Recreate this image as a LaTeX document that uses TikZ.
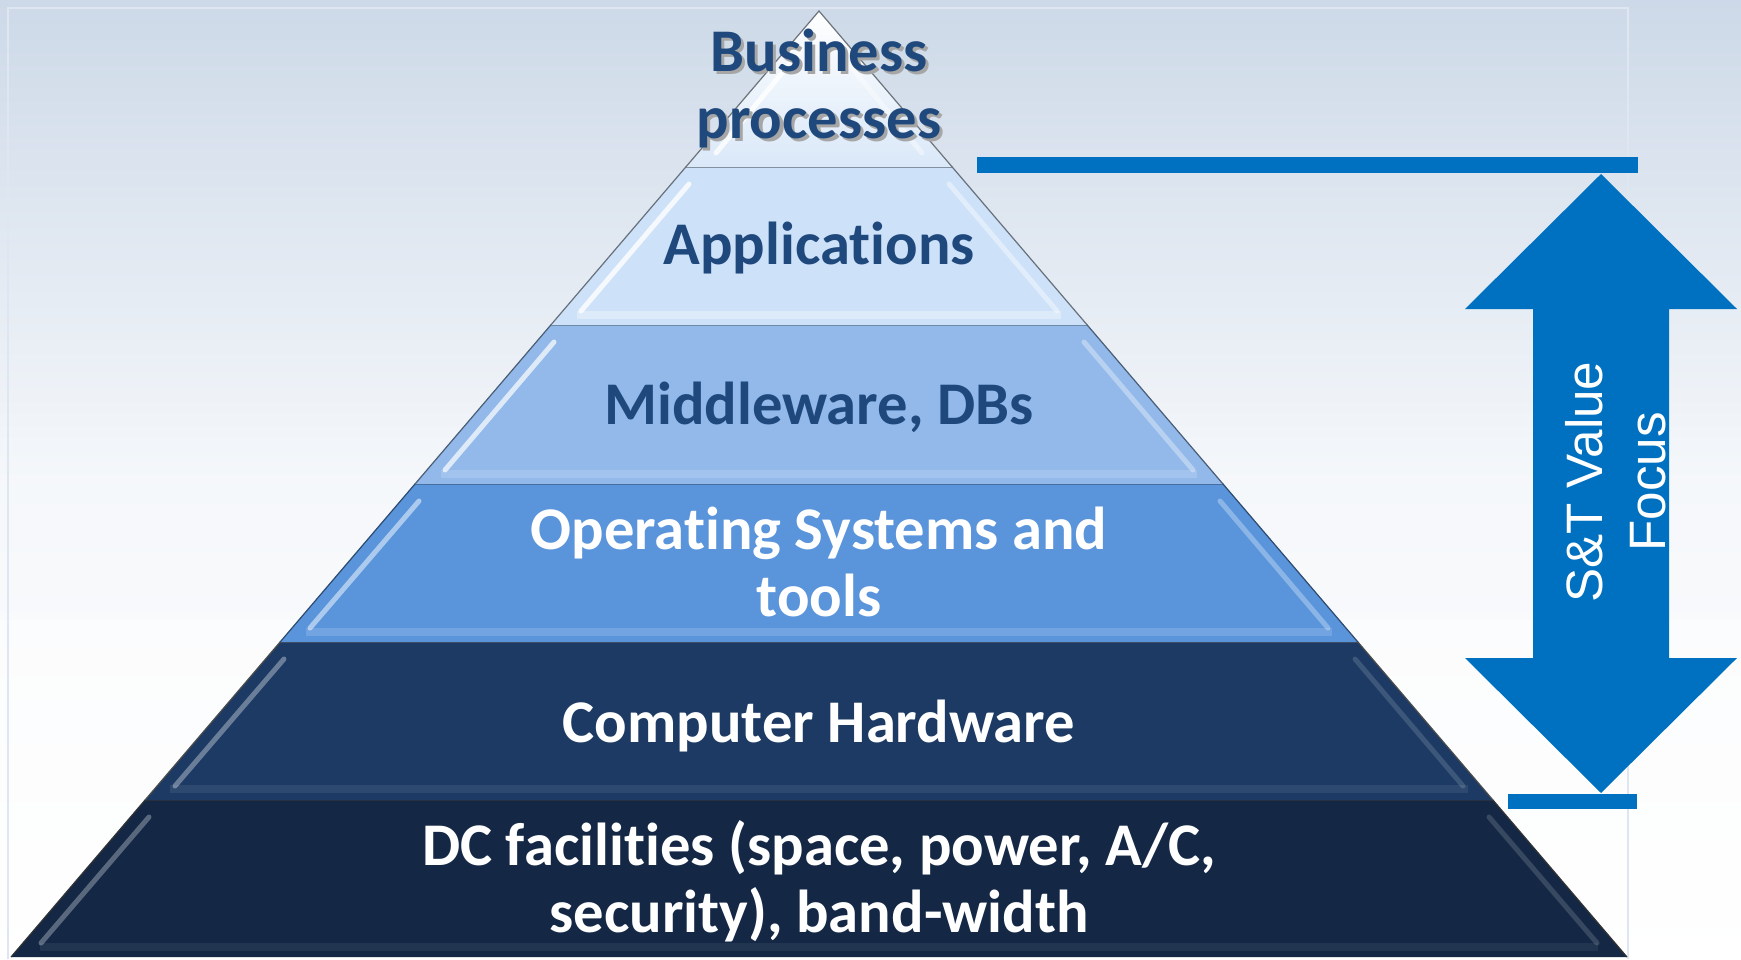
\documentclass[tikz,border=0pt]{standalone}
\usepackage{fontspec}
\newfontfamily\calibri{Carlito}[Ligatures=NoCommon]
\newfontfamily\arial{Liberation Sans}
\definecolor{textblue}{HTML}{1F497D}
\definecolor{arrowblue}{HTML}{0070C0}
\definecolor{skyblue}{HTML}{CDD9E8}
\definecolor{framegrey}{HTML}{DDE6F1}
\definecolor{layerA}{HTML}{DAE8F8}
\definecolor{layerB}{HTML}{CDE1F8}
\definecolor{layerC}{HTML}{92B9EA}
\definecolor{layerD}{HTML}{5A95DC}
\definecolor{layerE}{HTML}{1C3A63}
\definecolor{layerF}{HTML}{142846}
\newcommand\shadowtext[1]{\rlap{\hspace{1.6pt}\raisebox{-1.6pt}{\color{black!35}#1}}#1}
\tikzset{every picture/.style={line width=0.75pt}}
\tikzset{
  edge/.style={draw=#1, line width=0.6pt},
  bevel/.style={white, opacity=0.5, line width=2.5pt, line cap=round},
  shine/.style={white, opacity=0.15, line width=4pt},
  darktext/.style={font=\calibri\bfseries\fontsize{30.3}{33.5}\selectfont, text=textblue, align=center},
  lighttext/.style={font=\calibri\bfseries\fontsize{30.3}{33.5}\selectfont, text=white, align=center}
}
\begin{document}
\begin{tikzpicture}[x=0.5pt,y=0.5pt,yscale=-1,xscale=1]
\useasboundingbox (0,0) rectangle (1741,959);

%Background sky
\fill[top color=skyblue, bottom color=white, middle color=skyblue!20!white] (0,0) rectangle (1741,959);
\fill[white, opacity=0.5] (0,620) rectangle (1741,959);
\draw[framegrey, line width=1pt] (8,959) -- (8,8) -- (1628,8) -- (1628,959);

%Shape: Layer F (bottom)
\fill[layerF] (145.1,800) -- (1492.9,800) -- (1627,957) -- (11,957) -- cycle;
\draw[edge=black!80] (11,957) -- (145.1,800) -- (1492.9,800) -- (1627,957);
\draw[bevel, opacity=0.3] (149,817) -- (41,943);
\draw[bevel, opacity=0.15] (1489,817) -- (1597,943);
\draw[shine, opacity=0.06] (40,947) -- (1598,947);

%Shape: Layer E
\fill[layerE] (280.1,642) -- (1357.9,642) -- (1492.9,800) -- (145.1,800) -- cycle;
\draw[edge=black!70] (145.1,800) -- (280.1,642) -- (1357.9,642) -- (1492.9,800);
\draw[bevel, opacity=0.35] (284,659) -- (175,786);
\draw[bevel, opacity=0.15] (1355,659) -- (1463,786);
\draw[shine, opacity=0.08] (170,789) -- (1468,789);

%Shape: Layer D
\fill[layerD] (415,484) -- (1223,484) -- (1357.9,642) -- (280.1,642) -- cycle;
\draw[edge=layerD!50!black] (280.1,642) -- (415,484) -- (1223,484) -- (1357.9,642);
\draw[bevel] (419,501) -- (310,628);
\draw[bevel, opacity=0.3] (1220,501) -- (1328,628);
\draw[shine] (306,632) -- (1332,632);

%Shape: Layer C
\fill[layerC] (550.8,325) -- (1087.2,325) -- (1223,484) -- (415,484) -- cycle;
\draw[edge=layerC!50!black] (415,484) -- (550.8,325) -- (1087.2,325) -- (1223,484);
\draw[bevel, opacity=0.7] (554,342) -- (445,470);
\draw[bevel, opacity=0.35] (1084,342) -- (1193,470);
\draw[shine] (441,474) -- (1197,474);

%Shape: Layer B
\fill[layerB] (685.8,167) -- (952.2,167) -- (1087.2,325) -- (550.8,325) -- cycle;
\draw[edge=layerB!50!black] (550.8,325) -- (685.8,167) -- (952.2,167) -- (1087.2,325);
\draw[bevel, opacity=0.8] (689,184) -- (581,311);
\draw[bevel, opacity=0.4] (949,184) -- (1057,311);
\draw[shine, opacity=0.3] (577,315) -- (1061,315);

%Shape: Layer A (top)
\fill[top color=white, bottom color=layerA] (819,11) -- (952.2,167) -- (685.8,167) -- cycle;
\draw[edge=layerA!50!black] (685.8,167) -- (819,11) -- (952.2,167);
\draw[bevel, opacity=0.8] (801,50) -- (716,153);
\draw[bevel, opacity=0.4] (837,50) -- (922,153);

% Text Node
\node[darktext] (business) at (819,90) {\shadowtext{Business}\\\shadowtext{processes}};
\node[darktext] (apps) at (819,248) {Applicat\kern0pt ions};
\node[darktext] (mware) at (819,407) {Middleware, DBs};
\node[lighttext] (os) at (819,562) {Operat\kern0pt ing Systems and\\tools};
\node[lighttext] (hw) at (819,726) {Computer Hardware};
\node[lighttext] (dc) at (819,881) {DC facilit\kern0pt ies (space, power, A/C,\\security), band-width};

%Shape: Focus bars
\fill[arrowblue] (977,157) rectangle (1638,173);
\fill[arrowblue] (1508,794) rectangle (1637,809);

%Shape: Double arrow
\fill[arrowblue] (1601,174) -- (1737,309) -- (1669,309) -- (1669,658) -- (1737,658) -- (1601,793)
  -- (1465,658) -- (1533,658) -- (1533,309) -- (1465,309) -- cycle;

% Text Node
\node[font=\arial\fontsize{25.6}{31.5}\selectfont, text=white, align=center, rotate=90] (focus) at (1616,482) {S\&T Value\\Focus};

\end{tikzpicture}
\end{document}
